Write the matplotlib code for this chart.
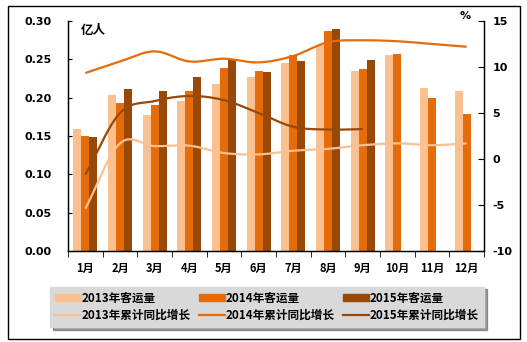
import numpy as np
import matplotlib.pyplot as plt
from matplotlib.patches import Rectangle, Patch
from matplotlib.lines import Line2D

plt.rcParams['font.family'] = ['Noto Sans CJK SC', 'DejaVu Sans']

months = ['1月', '2月', '3月', '4月', '5月', '6月', '7月', '8月', '9月', '10月', '11月', '12月']

# passenger volume, 亿人
vol_2013 = [0.159, 0.204, 0.177, 0.196, 0.218, 0.227, 0.245, 0.269, 0.235, 0.256, 0.213, 0.209]
vol_2014 = [0.150, 0.193, 0.190, 0.209, 0.239, 0.235, 0.256, 0.287, 0.237, 0.257, 0.200, 0.179]
vol_2015 = [0.149, 0.211, 0.209, 0.227, 0.249, 0.233, 0.248, 0.290, 0.249, np.nan, np.nan, np.nan]

# cumulative y/y growth, %
gr_2013 = [-5.4, 1.7, 1.4, 1.45, 0.65, 0.5, 0.9, 1.1, 1.5, 1.7, 1.5, 1.7]
gr_2014 = [9.35, 10.6, 11.7, 10.6, 10.9, 10.5, 11.2, 12.7, 12.9, 12.8, 12.5, 12.2]
gr_2015 = [-1.7, 5.0, 6.3, 6.85, 6.4, 5.0, 3.5, 3.2, 3.25]

c13, c14, c15 = '#FAC090', '#E46C0A', '#984807'


def smooth(x, y, n=24):
    # catmull-rom, like excel's smoothed line
    x = np.asarray(x, float)
    y = np.asarray(y, float)
    px = np.concatenate([[2 * x[0] - x[1]], x, [2 * x[-1] - x[-2]]])
    py = np.concatenate([[2 * y[0] - y[1]], y, [2 * y[-1] - y[-2]]])
    ox, oy = [], []
    t = np.linspace(0, 1, n)
    for i in range(1, len(px) - 2):
        for p, o in ((px, ox), (py, oy)):
            p0, p1, p2, p3 = p[i - 1], p[i], p[i + 1], p[i + 2]
            o.extend(0.5 * (2 * p1 + (-p0 + p2) * t + (2 * p0 - 5 * p1 + 4 * p2 - p3) * t ** 2
                            + (-p0 + 3 * p1 - 3 * p2 + p3) * t ** 3))
    return ox, oy


fig = plt.figure(figsize=(5.27, 3.42), dpi=100)
ax = fig.add_axes([68 / 527, 91 / 342, 416 / 527, 230 / 342])
ax2 = ax.twinx()

x = np.arange(12)
w = 0.23
ax.bar(x - w, vol_2013, w, color=c13, zorder=2)
ax.bar(x, vol_2014, w, color=c14, zorder=2)
ax.bar(x + w, vol_2015, w, color=c15, zorder=2)

for g, c in ((gr_2013, c13), (gr_2014, c14), (gr_2015, c15)):
    sx, sy = smooth(np.arange(len(g)), g)
    ax2.plot(sx, sy, color=c, lw=1.6, solid_capstyle='butt')

ax.set_xlim(-0.5, 11.5)
ax.set_ylim(0, 0.30)
ax.set_yticks(np.arange(0, 0.301, 0.05))
ax.set_yticklabels([f'{v:.2f}' for v in np.arange(0, 0.301, 0.05)],
                   fontsize=8, fontweight='bold', family='DejaVu Sans')
ax.set_xticks(x)
ax.set_xticklabels(months, fontsize=8, fontweight='bold')
ax.set_xticks(np.arange(-0.5, 12, 1), minor=True)
ax.tick_params(axis='x', which='major', length=0, pad=8)
ax.tick_params(axis='x', which='minor', length=4, direction='out')
ax.tick_params(axis='y', length=3, direction='in', pad=12)

ax2.set_ylim(-10, 15)
ax2.set_yticks(range(-10, 16, 5))
ax2.set_yticklabels([str(v) for v in range(-10, 16, 5)],
                    fontsize=8, fontweight='bold', family='DejaVu Sans')
ax2.tick_params(axis='y', length=4, direction='in', pad=6)

for a in (ax, ax2):
    a.spines['top'].set_visible(False)
    for s in ('left', 'right', 'bottom'):
        a.spines[s].set_linewidth(0.9)

ax.text(0.03, 0.985, '亿人', transform=ax.transAxes, fontsize=9, fontweight='bold', va='top')
ax2.text(0.955, 1.0, '%', transform=ax.transAxes, fontsize=8, fontweight='bold', va='bottom', ha='center',
         family='DejaVu Sans')

handles = [
    Patch(color=c13, label='2013年客运量'),
    Line2D([], [], color=c13, lw=1.6, label='2013年累计同比增长'),
    Patch(color=c14, label='2014年客运量'),
    Line2D([], [], color=c14, lw=1.6, label='2014年累计同比增长'),
    Patch(color=c15, label='2015年客运量'),
    Line2D([], [], color=c15, lw=1.6, label='2015年累计同比增长'),
]
leg = fig.legend(handles=handles, ncol=3, loc='center', bbox_to_anchor=(267 / 527, 1 - 307 / 342),
                 prop={'weight': 'bold', 'size': 8.4}, frameon=True, fancybox=False,
                 shadow=True, facecolor='#D9D9D9', edgecolor='#D9D9D9', handlelength=2.2,
                 handleheight=0.5, handletextpad=0.1, columnspacing=0.7, labelspacing=0.35,
                 borderpad=0.45)

fig.patches.append(Rectangle((8 / 527, 1 - 339 / 342), 512 / 527, 333 / 342, transform=fig.transFigure,
                             fill=False, edgecolor='black', lw=1))

fig.savefig('out.png', dpi=100)
